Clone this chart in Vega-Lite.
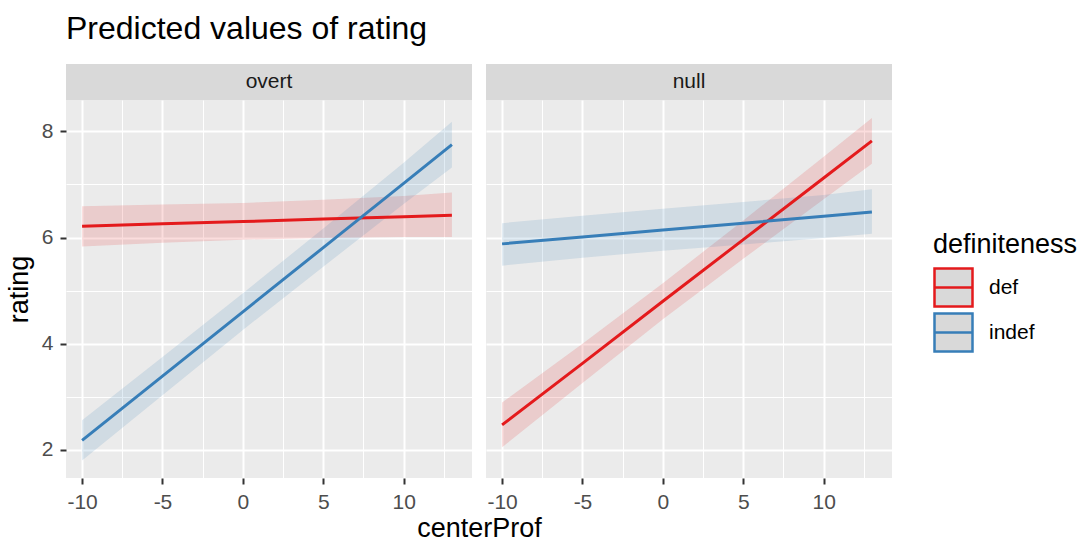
{
  "$schema": "https://vega.github.io/schema/vega-lite/v6.json",
  "background": "white",
  "padding": {"left": 5, "top": 13, "right": 5, "bottom": 5},
  "title": {"text": "Predicted values of rating", "anchor": "start", "frame": "group", "fontSize": 32, "fontWeight": "normal", "color": "black", "font": "Liberation Sans", "offset": 18},
  "config": {
    "font": "Liberation Sans",
    "view": {"stroke": null},
    "axis": {"labelFont": "Liberation Sans", "titleFont": "Liberation Sans"},
    "legend": {"labelFont": "Liberation Sans", "titleFont": "Liberation Sans"}
  },
  "datasets": {
    "pred": [
      {"panel": "overt", "definiteness": "def", "centerProf": -10, "rating": 6.21, "lo": 5.83, "hi": 6.59},
      {"panel": "overt", "definiteness": "def", "centerProf": -5, "rating": 6.26, "lo": 5.90, "hi": 6.62},
      {"panel": "overt", "definiteness": "def", "centerProf": 0, "rating": 6.30, "lo": 5.96, "hi": 6.65},
      {"panel": "overt", "definiteness": "def", "centerProf": 5, "rating": 6.35, "lo": 5.99, "hi": 6.71},
      {"panel": "overt", "definiteness": "def", "centerProf": 10, "rating": 6.39, "lo": 6.01, "hi": 6.78},
      {"panel": "overt", "definiteness": "def", "centerProf": 13, "rating": 6.42, "lo": 6.01, "hi": 6.85},
      {"panel": "overt", "definiteness": "indef", "centerProf": -10, "rating": 2.18, "lo": 1.80, "hi": 2.56},
      {"panel": "overt", "definiteness": "indef", "centerProf": -5, "rating": 3.39, "lo": 3.03, "hi": 3.75},
      {"panel": "overt", "definiteness": "indef", "centerProf": 0, "rating": 4.60, "lo": 4.26, "hi": 4.95},
      {"panel": "overt", "definiteness": "indef", "centerProf": 5, "rating": 5.81, "lo": 5.45, "hi": 6.17},
      {"panel": "overt", "definiteness": "indef", "centerProf": 10, "rating": 7.02, "lo": 6.63, "hi": 7.41},
      {"panel": "overt", "definiteness": "indef", "centerProf": 13, "rating": 7.75, "lo": 7.32, "hi": 8.18},
      {"panel": "null", "definiteness": "def", "centerProf": -10, "rating": 2.47, "lo": 2.05, "hi": 2.89},
      {"panel": "null", "definiteness": "def", "centerProf": -5, "rating": 3.63, "lo": 3.26, "hi": 4.00},
      {"panel": "null", "definiteness": "def", "centerProf": 0, "rating": 4.80, "lo": 4.46, "hi": 5.14},
      {"panel": "null", "definiteness": "def", "centerProf": 5, "rating": 5.96, "lo": 5.60, "hi": 6.32},
      {"panel": "null", "definiteness": "def", "centerProf": 10, "rating": 7.12, "lo": 6.72, "hi": 7.52},
      {"panel": "null", "definiteness": "def", "centerProf": 13, "rating": 7.82, "lo": 7.39, "hi": 8.25},
      {"panel": "null", "definiteness": "indef", "centerProf": -10, "rating": 5.88, "lo": 5.47, "hi": 6.27},
      {"panel": "null", "definiteness": "indef", "centerProf": -5, "rating": 6.01, "lo": 5.62, "hi": 6.41},
      {"panel": "null", "definiteness": "indef", "centerProf": 0, "rating": 6.14, "lo": 5.75, "hi": 6.54},
      {"panel": "null", "definiteness": "indef", "centerProf": 5, "rating": 6.27, "lo": 5.87, "hi": 6.67},
      {"panel": "null", "definiteness": "indef", "centerProf": 10, "rating": 6.40, "lo": 5.99, "hi": 6.80},
      {"panel": "null", "definiteness": "indef", "centerProf": 13, "rating": 6.48, "lo": 6.07, "hi": 6.91}
    ]
  },
  "bounds": "flush",
  "columns": 2,
  "spacing": {"row": 0, "column": 14},
  "concat": [
    {
      "width": 406, "height": 36,
      "data": {"values": [{"panel": "overt"}]},
      "view": {"fill": "#d9d9d9", "stroke": null},
      "mark": {"type": "text", "fontSize": 21, "color": "#1a1a1a", "font": "Liberation Sans"},
      "encoding": {"text": {"field": "panel", "type": "nominal"}}
    },
    {
      "width": 406, "height": 36,
      "data": {"values": [{"panel": "null"}]},
      "view": {"fill": "#d9d9d9", "stroke": null},
      "mark": {"type": "text", "fontSize": 21, "color": "#1a1a1a", "font": "Liberation Sans"},
      "encoding": {"text": {"field": "panel", "type": "nominal"}}
    },
    {
      "width": 406, "height": 378,
      "data": {"name": "pred"},
      "transform": [{"filter": "datum.panel === 'overt'"}],
      "view": {"fill": "#ebebeb", "stroke": null},
      "layer": [
        {
          "mark": {"type": "area", "opacity": 0.15},
          "encoding": {
            "x": {"field": "centerProf", "type": "quantitative", "scale": {"domain": [-11, 14.25], "nice": false, "zero": false},
              "axis": {"orient": "top", "values": [-7.5, -2.5, 2.5, 7.5, 12.5], "grid": true, "gridColor": "white", "gridWidth": 1, "labels": false, "ticks": false, "domain": false, "title": null}},
            "y": {"field": "lo", "type": "quantitative", "scale": {"domain": [1.47, 8.59], "nice": false, "zero": false},
              "axis": {"orient": "right", "values": [3, 5, 7], "grid": true, "gridColor": "white", "gridWidth": 1, "labels": false, "ticks": false, "domain": false, "title": null}},
            "y2": {"field": "hi"},
            "fill": {"field": "definiteness", "type": "nominal", "scale": {"domain": ["indef", "def"], "range": ["#377EB8", "#E41A1C"]}, "legend": null}
          }
        },
        {
          "mark": {"type": "line", "strokeWidth": 3},
          "encoding": {
            "x": {"field": "centerProf", "type": "quantitative",
              "axis": {"orient": "bottom", "values": [-10, -5, 0, 5, 10], "labelExpr": "datum.value", "grid": true, "gridColor": "white", "gridWidth": 2, "domain": false, "tickColor": "#333333", "tickSize": 6, "tickWidth": 2, "labelFontSize": 21, "labelColor": "#4d4d4d", "labelPadding": 7, "labelFlush": false, "labelOverlap": false, "title": "centerProf", "titleFontSize": 27, "titleFontWeight": "normal", "titleColor": "black", "titleX": 413, "titlePadding": 3}},
            "y": {"field": "rating", "type": "quantitative",
              "axis": {"orient": "left", "values": [2, 4, 6, 8], "grid": true, "gridColor": "white", "gridWidth": 2, "domain": false, "tickColor": "#333333", "tickSize": 6, "tickWidth": 2, "labelFontSize": 21, "labelColor": "#4d4d4d", "labelPadding": 7, "labelFlush": false, "labelOverlap": false, "title": "rating", "titleFontSize": 27, "titleFontWeight": "normal", "titleColor": "black", "titlePadding": 8}},
            "color": {"field": "definiteness", "type": "nominal", "scale": {"domain": ["def", "indef"], "range": ["#E41A1C", "#377EB8"]},
              "legend": {"title": "definiteness", "orient": "none", "legendX": 867, "legendY": 168, "padding": 0, "titleFontSize": 27, "titleFontWeight": "normal", "titleColor": "black", "titlePadding": 8, "labelFontSize": 21, "labelColor": "black", "labelOffset": 15, "symbolType": "M-1,-1H1V1H-1ZM-1,0H1", "symbolSize": 1444, "symbolStrokeWidth": 2.5, "symbolFillColor": "#d9d9d9", "rowPadding": -9,
                "encode": {"symbols": {"update": {"fill": {"value": "#d9d9d9"}, "fillOpacity": {"value": 1}, "opacity": {"value": 1}}}}}}
          }
        }
      ],
      "resolve": {"axis": {"x": "independent", "y": "independent"}}
    },
    {
      "width": 406, "height": 378,
      "data": {"name": "pred"},
      "transform": [{"filter": "datum.panel === 'null'"}],
      "view": {"fill": "#ebebeb", "stroke": null},
      "layer": [
        {
          "mark": {"type": "area", "opacity": 0.15},
          "encoding": {
            "x": {"field": "centerProf", "type": "quantitative", "scale": {"domain": [-11, 14.25], "nice": false, "zero": false},
              "axis": {"orient": "top", "values": [-7.5, -2.5, 2.5, 7.5, 12.5], "grid": true, "gridColor": "white", "gridWidth": 1, "labels": false, "ticks": false, "domain": false, "title": null}},
            "y": {"field": "lo", "type": "quantitative", "scale": {"domain": [1.47, 8.59], "nice": false, "zero": false},
              "axis": {"orient": "right", "values": [3, 5, 7], "grid": true, "gridColor": "white", "gridWidth": 1, "labels": false, "ticks": false, "domain": false, "title": null}},
            "y2": {"field": "hi"},
            "fill": {"field": "definiteness", "type": "nominal", "scale": {"domain": ["indef", "def"], "range": ["#377EB8", "#E41A1C"]}, "legend": null}
          }
        },
        {
          "mark": {"type": "line", "strokeWidth": 3},
          "encoding": {
            "x": {"field": "centerProf", "type": "quantitative",
              "axis": {"orient": "bottom", "values": [-10, -5, 0, 5, 10], "labelExpr": "datum.value", "grid": true, "gridColor": "white", "gridWidth": 2, "domain": false, "tickColor": "#333333", "tickSize": 6, "tickWidth": 2, "labelFontSize": 21, "labelColor": "#4d4d4d", "labelPadding": 7, "labelFlush": false, "labelOverlap": false, "title": null}},
            "y": {"field": "rating", "type": "quantitative",
              "axis": {"orient": "left", "values": [2, 4, 6, 8], "grid": true, "gridColor": "white", "gridWidth": 2, "domain": false, "labels": false, "ticks": false, "title": null}},
            "color": {"field": "definiteness", "type": "nominal", "scale": {"domain": ["def", "indef"], "range": ["#E41A1C", "#377EB8"]},
              "legend": {"title": "definiteness", "orient": "none", "legendX": 867, "legendY": 168, "padding": 0, "titleFontSize": 27, "titleFontWeight": "normal", "titleColor": "black", "titlePadding": 8, "labelFontSize": 21, "labelColor": "black", "labelOffset": 15, "symbolType": "M-1,-1H1V1H-1ZM-1,0H1", "symbolSize": 1444, "symbolStrokeWidth": 2.5, "symbolFillColor": "#d9d9d9", "rowPadding": -9,
                "encode": {"symbols": {"update": {"fill": {"value": "#d9d9d9"}, "fillOpacity": {"value": 1}, "opacity": {"value": 1}}}}}}
          }
        }
      ],
      "resolve": {"axis": {"x": "independent", "y": "independent"}}
    }
  ],
  "resolve": {"scale": {"color": "shared", "fill": "shared"}, "legend": {"color": "shared"}}
}
